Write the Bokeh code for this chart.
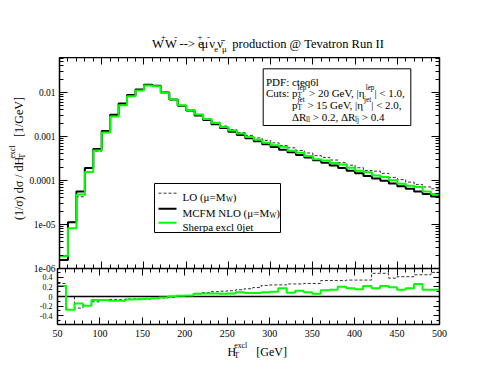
import math
import numpy as np
from bokeh.plotting import figure
from bokeh.layouts import column, row
from bokeh.models import (LinearAxis, LogAxis, FixedTicker, Label, BoxAnnotation,
                          Arrow, Range1d, CustomJSTickFormatter, ColumnDataSource)
from bokeh.core.properties import value
from bokeh.embed import file_html
from bokeh.resources import INLINE

# ---------------- data ----------------
bin_width = 10
bin_lo = list(range(50, 500, 10))  # 45 bins of H_T^excl [GeV]

nlo = [1.55e-6, 1.13e-5, 5.6e-5, 1.91e-4, 5.17e-4, 1.33e-3, 3.11e-3, 5.6e-3, 8.7e-3, 1.17e-2,
       1.50e-2, 1.42e-2, 9.9e-3, 6.9e-3, 5.0e-3, 3.9e-3, 3.0e-3, 2.35e-3, 1.9e-3, 1.55e-3,
       1.28e-3, 1.07e-3, 9.1e-4, 7.8e-4, 6.6e-4, 5.75e-4, 5.0e-4, 4.37e-4, 3.8e-4, 3.31e-4,
       2.88e-4, 2.51e-4, 2.19e-4, 1.91e-4, 1.66e-4, 1.45e-4, 1.26e-4, 1.10e-4, 9.8e-5, 8.5e-5,
       7.4e-5, 6.5e-5, 5.6e-5, 4.9e-5, 4.3e-5]

lo_ratio = [0.27, 0.0, -0.24, -0.185, -0.11, -0.08, -0.06, -0.065, -0.05, -0.05,
            -0.05, -0.04, -0.03, -0.02, 0.0, 0.02, 0.055, 0.08, 0.10, 0.11,
            0.12, 0.14, 0.16, 0.185, 0.23, 0.24, 0.24, 0.26, 0.26, 0.27,
            0.27, 0.33, 0.33, 0.33, 0.34, 0.34, 0.34, 0.48, 0.48, 0.38,
            0.41, 0.41, 0.45, 0.45, 0.50]

sherpa_ratio = [0.22, -0.275, -0.145, -0.19, -0.075, -0.075, -0.09, -0.09, -0.06, -0.055,
                -0.045, -0.035, -0.02, 0.0, 0.015, 0.02, 0.055, 0.06, 0.06, 0.055,
                0.06, 0.09, 0.07, 0.07, 0.09, 0.10, 0.17, 0.08, 0.12, 0.09,
                0.055, 0.13, 0.14, 0.20, 0.17, 0.15, 0.22, 0.17, 0.22, 0.19,
                0.14, 0.17, 0.26, 0.14, 0.14]

x_ticks = list(range(50, 501, 50))
x_minor = list(range(50, 501, 10))
y_ticks = [1e-6, 1e-5, 1e-4, 1e-3, 1e-2]
y_tick_labels = ["1e-06", "1e-05", "0.0001", "0.001", "0.01"]
y_minor = [m * t for t in y_ticks for m in range(2, 10)]
r_ticks = [-0.4, -0.2, 0.0, 0.2, 0.4]
r_tick_labels = ["-0.4", "-0.2", "0", "0.2", "0.4"]
r_minor = [-0.5, -0.3, -0.1, 0.1, 0.3, 0.5]

edges = bin_lo + [bin_lo[-1] + bin_width]
nlo_a = np.array(nlo)
lo = nlo_a * (1 + np.array(lo_ratio))
sherpa = nlo_a * (1 + np.array(sherpa_ratio))
ratio_nlo = nlo_a / nlo_a - 1


def stepy(v):
    v = list(v)
    return v + [v[-1]]


FONT = "Liberation Serif"
GREEN = "#00ff00"
DASHC = "#333333"
NBSP = "\u00a0"

# Times / Liberation Serif advance widths (per 1000 em)
WID = {' ': 250, '(': 333, ')': 333, '+': 564, ',': 250, '-': 333, '.': 250, '/': 278,
       ':': 278, '<': 564, '=': 564, '>': 564, '@': 921, '[': 333, ']': 333, '|': 200,
       'C': 667, 'D': 722, 'F': 556, 'G': 722, 'H': 722, 'I': 333, 'L': 611, 'M': 889,
       'N': 722, 'O': 722, 'P': 556, 'R': 667, 'S': 556, 'T': 611, 'V': 722, 'W': 944,
       'a': 444, 'b': 500, 'c': 444, 'd': 500, 'e': 444, 'h': 500, 'i': 278, 'j': 278,
       'l': 278, 'n': 500, 'o': 500, 'p': 500, 'q': 500, 'r': 333, 's': 389, 't': 278,
       'u': 500, 'v': 500, 'x': 500, 'σ': 550, 'μ': 576, 'ν': 500, 'η': 500, 'Δ': 612,
       '\u0304': 0}


def tw(s, size):
    return sum(WID.get(c, 500) for c in s) / 1000.0 * size


def rich(x0, y0, pieces, size, vertical=False, sup=0.45, sub=0.35, ssup=0.55, ssub=0.3, small=0.65):
    """Lay out text pieces; returns items (page_x, page_y, text, font_px, angle)."""
    out = []
    s = 0.0

    def place(text, s, d, fs):
        t = text.replace(" ", NBSP)
        if vertical:
            out.append((x0 - d, y0 - s, t, fs, math.pi / 2))
        else:
            out.append((x0 + s, y0 - d, t, fs, 0.0))

    for piece in pieces:
        if len(piece) == 3:
            _, lo_t, hi_t = piece
            fs = size * small
            place(lo_t, s, -ssub * size, fs)
            place(hi_t, s, ssup * size, fs)
            s += max(tw(lo_t, fs), tw(hi_t, fs))
            continue
        text, mode = piece
        if mode == "n":
            fs, d = size, 0.0
        elif mode == "sup":
            fs, d = size * small, sup * size
        else:
            fs, d = size * small, -sub * size
        place(text, s, d, fs)
        s += tw(text, fs)
    return out, s


def to_labels(fig, items, FL, FB):
    for px, py, text, fs, ang in items:
        fig.add_layout(Label(x=px - FL, y=FB - py, x_units="screen", y_units="screen",
                             text=text, text_font=FONT, text_font_size=f"{fs:.1f}px",
                             text_color="black", text_align="left",
                             text_baseline="alphabetic", angle=ang))


def to_text(fig, items, ox, oy):
    src = ColumnDataSource(dict(x=[i[0] - ox for i in items], y=[i[1] - oy for i in items],
                                text=[i[2] for i in items], fs=[f"{i[3]:.1f}px" for i in items],
                                angle=[i[4] for i in items]))
    fig.text(x="x", y="y", text="text", source=src, text_font=value(FONT), text_font_size="fs",
             angle="angle", text_align="left", text_baseline="alphabetic", text_color="black")


def blank_fig(w, h):
    f = figure(width=w, height=h, x_range=Range1d(0, w), y_range=Range1d(h, 0),
               x_axis_location=None, y_axis_location=None, toolbar_location=None,
               output_backend="svg", min_border=0)
    f.grid.visible = False
    f.outline_line_color = None
    f.background_fill_color = "white"
    f.border_fill_color = "white"
    return f


blank_fmt = CustomJSTickFormatter(code="return '';")


def style_axis(ax, major_in, minor_in, show, fs=10, standoff=5):
    ax.major_tick_in = major_in
    ax.major_tick_out = 0
    ax.minor_tick_in = minor_in
    ax.minor_tick_out = 0
    ax.axis_line_width = 1.5
    ax.axis_line_color = "black"
    ax.major_tick_line_color = "black"
    ax.minor_tick_line_color = "black"
    ax.major_tick_line_width = 1
    ax.minor_tick_line_width = 1
    ax.axis_label = None
    if show:
        ax.major_label_text_font = FONT
        ax.major_label_text_font_size = f"{fs}px"
        ax.major_label_text_color = "black"
        ax.major_label_standoff = standoff
    else:
        ax.formatter = blank_fmt
        ax.major_label_text_font_size = "1px"
        ax.major_label_standoff = 0


y_fmt = CustomJSTickFormatter(args=dict(t=y_ticks, l=y_tick_labels), code="""
for (let i = 0; i < t.length; i++) {
  if (Math.abs(Math.log10(tick) - Math.log10(t[i])) < 1e-6) return l[i];
}
return '';
""")
r_fmt = CustomJSTickFormatter(args=dict(t=r_ticks, l=r_tick_labels), code="""
for (let i = 0; i < t.length; i++) {
  if (Math.abs(tick - t[i]) < 1e-9) return l[i];
}
return '';
""")

# page geometry
TOTAL_W = 490
TITLE_H = 57
YLAB_W = 26
MAIN_H = 211
OVER = 7                    # main canvas overhang below its frame (room for "1e-06")
RATIO_FH = 56
RATIO_BB = 17
XLAB_H = 38
FL = 57                     # frame left (page px)
MAIN_FB = TITLE_H + MAIN_H  # main frame bottom (page px)
RATIO_FB = MAIN_FB + RATIO_FH

# ---------------- title ----------------
tfig = blank_fig(TOTAL_W, TITLE_H)
title_pieces = [("W", "n"), ("+", "sup"), ("W", "n"), ("-", "sup"), (" --> e", "n"), ("+", "sup"),
                ("μ", "n"), ("-", "sup"), ("ν", "n"), ("e", "sub"), ("ν\u0304", "n"), ("μ", "sub"),
                ("  production @ Tevatron Run II", "n")]
TS = 12.5
_, tw_title = rich(0, 0, title_pieces, TS, small=0.7)
items, _ = rich(248 - tw_title / 2, 43, title_pieces, TS, sup=0.5, sub=0.4, small=0.7)
to_text(tfig, items, 0, 0)

# ---------------- y label ----------------
yfig = blank_fig(YLAB_W, MAIN_H + OVER)
items, _ = rich(18.5, 225, [("(1/σ) dσ / dH", "n"), ("ss", "T", "excl"), ("   [1/GeV]", "n")],
                12, vertical=True)
to_text(yfig, items, 0, TITLE_H)

# ---------------- main panel ----------------
p = figure(width=TOTAL_W - YLAB_W, height=MAIN_H + OVER, y_axis_type="log",
           x_range=Range1d(50, 500), y_range=Range1d(1e-6, 0.062),
           output_backend="svg", toolbar_location=None,
           min_border_left=FL - YLAB_W, min_border_right=TOTAL_W - 439,
           min_border_top=0, min_border_bottom=OVER)
p.grid.visible = False
p.outline_line_color = None
p.background_fill_color = "white"
p.border_fill_color = "white"

xt = FixedTicker(ticks=x_ticks, minor_ticks=x_minor)
yt = FixedTicker(ticks=y_ticks, minor_ticks=y_minor)

p.xaxis.ticker = xt
style_axis(p.xaxis[0], 7, 4, False)
p.yaxis.ticker = yt
p.yaxis.formatter = y_fmt
style_axis(p.yaxis[0], 8, 4, True, fs=9.5, standoff=4)

top = LinearAxis(ticker=xt)
style_axis(top, 7, 4, False)
p.add_layout(top, "above")
right = LogAxis(ticker=yt)
style_axis(right, 8, 4, False)
p.add_layout(right, "right")

p.step(edges, stepy(lo), mode="after", line_color=DASHC, line_dash="3 2", line_width=1)
p.step(edges, stepy(nlo), mode="after", line_color="black", line_width=2)
p.step(edges, stepy(sherpa), mode="after", line_color=GREEN, line_width=2)


def box(fig, FB, l, r, t, b):
    fig.add_layout(BoxAnnotation(left=l - FL, right=r - FL, top=FB - t, bottom=FB - b,
                                 left_units="screen", right_units="screen",
                                 top_units="screen", bottom_units="screen",
                                 fill_color="white", fill_alpha=1.0,
                                 line_color="black", line_width=1, line_alpha=1.0))


# info box
box(p, MAIN_FB, 260.7, 408.3, 68.3, 125)
IS = 11
ix = 263.5
ix2 = ix + tw("Cuts: ", IS)
info_lines = [
    (ix, 81, [("PDF: cteq6l", "n")]),
    (ix, 92.5, [("Cuts: p", "n"), ("ss", "T", "lep"), (" > 20 GeV, |η", "n"), ("lep", "sup"), ("| < 1.0,", "n")]),
    (ix2, 104.5, [("p", "n"), ("ss", "T", "jet"), (" > 15 GeV, |η", "n"), ("jet", "sup"), ("| < 2.0,", "n")]),
    (ix2, 116, [("ΔR", "n"), ("ll", "sub"), (" > 0.2, ΔR", "n"), ("lj", "sub"), (" > 0.4", "n")]),
]
for x0, y0, pieces in info_lines:
    items, _ = rich(x0, y0, pieces, IS, sup=0.42, sub=0.3, ssup=0.5, ssub=0.3)
    to_labels(p, items, FL, MAIN_FB)

# legend
box(p, MAIN_FB, 152, 278, 183, 232)
leg = [(DASHC, "3 2", 1, 192.7, [("LO (μ=M", "n"), ("W", "sub"), (")", "n")]),
       ("black", "solid", 2, 208.3, [("MCFM NLO (μ=M", "n"), ("W", "sub"), (")", "n")]),
       (GREEN, "solid", 2, 222.3, [("Sherpa excl 0jet", "n")])]
for col, dash, lw, ly, pieces in leg:
    p.add_layout(Arrow(x_start=156 - FL, y_start=MAIN_FB - ly, x_end=174 - FL, y_end=MAIN_FB - ly,
                       start_units="screen", end_units="screen", start=None, end=None,
                       line_color=col, line_dash=dash, line_width=lw))
    items, _ = rich(180, ly + 3.8, pieces, 11, sub=0.3)
    to_labels(p, items, FL, MAIN_FB)

# ---------------- ratio panel ----------------
r = figure(width=TOTAL_W, height=RATIO_FH + RATIO_BB, x_range=Range1d(50, 500),
           y_range=Range1d(-0.58, 0.58),
           output_backend="svg", toolbar_location=None,
           min_border_left=FL, min_border_right=TOTAL_W - 439, min_border_top=0,
           min_border_bottom=RATIO_BB)
r.grid.visible = False
r.outline_line_color = None
r.background_fill_color = "white"
r.border_fill_alpha = 0.0
r.styles = {"margin-top": f"-{OVER}px"}

rt = FixedTicker(ticks=r_ticks, minor_ticks=r_minor)
r.xaxis.ticker = xt
style_axis(r.xaxis[0], 7, 4, True, fs=10, standoff=5)
r.yaxis.ticker = rt
r.yaxis.formatter = r_fmt
style_axis(r.yaxis[0], 6, 3, True, fs=8, standoff=5)
rtop = LinearAxis(ticker=xt)
style_axis(rtop, 7, 4, False)
r.add_layout(rtop, "above")
rright = LinearAxis(ticker=rt)
style_axis(rright, 6, 3, False)
r.add_layout(rright, "right")

r.step(edges, stepy(lo_ratio), mode="after", line_color=DASHC, line_dash="3 2", line_width=1)
r.step(edges, stepy(ratio_nlo), mode="after", line_color="black", line_width=1.5)
r.step(edges, stepy(sherpa_ratio), mode="after", line_color=GREEN, line_width=2)

# ---------------- x label ----------------
xfig = blank_fig(TOTAL_W, XLAB_H)
items, _ = rich(218, 351.7, [("H", "n"), ("ss", "T", "excl"), ("    [GeV]", "n")], 12)
to_text(xfig, items, 0, RATIO_FB + RATIO_BB)

layout = column(tfig, row(yfig, p, spacing=0), r, xfig, spacing=0)
open("out.html", "w").write(file_html(layout, INLINE))
